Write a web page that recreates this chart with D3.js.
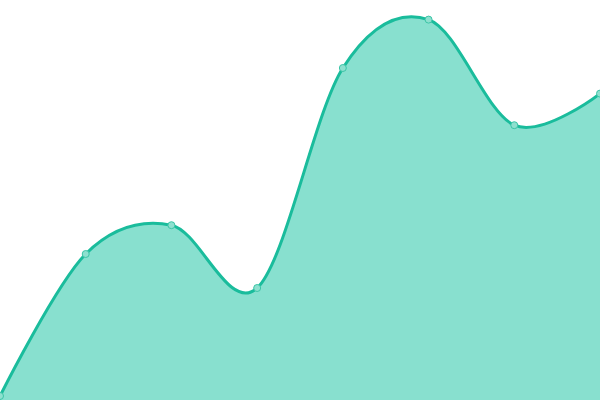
<!DOCTYPE html>
<html><head><meta charset="utf-8">
<script src="https://cdn.jsdelivr.net/npm/d3@7"></script>
<style>html,body{margin:0;padding:0;background:#fff;overflow:hidden}svg{display:block}</style>
</head><body>
<svg id="chart" width="600" height="400"></svg>
<script>
const categories = [0, 1, 2, 3, 4, 5, 6, 7];
const values = [1, 36.5, 43.7, 28, 83, 95.1, 68.7, 76.6];

const W = 600, H = 400;
const svg = d3.select("#chart");
const x = d3.scaleLinear().domain([0, categories.length - 1]).range([0, W]);
const y = d3.scaleLinear().domain([0, 100]).range([H, 0]);
const data = categories.map((c, i) => ({c, v: values[i]}));

const curve = d3.curveCardinal.tension(0);
svg.append("path").datum(data)
  .attr("d", d3.area().x(d => x(d.c)).y0(y(0)).y1(d => y(d.v)).curve(curve))
  .attr("fill", "#88e0cf");
svg.append("path").datum(data)
  .attr("d", d3.line().x(d => x(d.c)).y(d => y(d.v)).curve(curve))
  .attr("fill", "none").attr("stroke", "#1abc9c").attr("stroke-width", 3);
svg.selectAll("circle").data(data).enter().append("circle")
  .attr("cx", d => x(d.c)).attr("cy", d => y(d.v)).attr("r", 3.5)
  .attr("fill", "#8ee0cf").attr("stroke", "#3cc5a7").attr("stroke-width", 1);
</script>
</body></html>
